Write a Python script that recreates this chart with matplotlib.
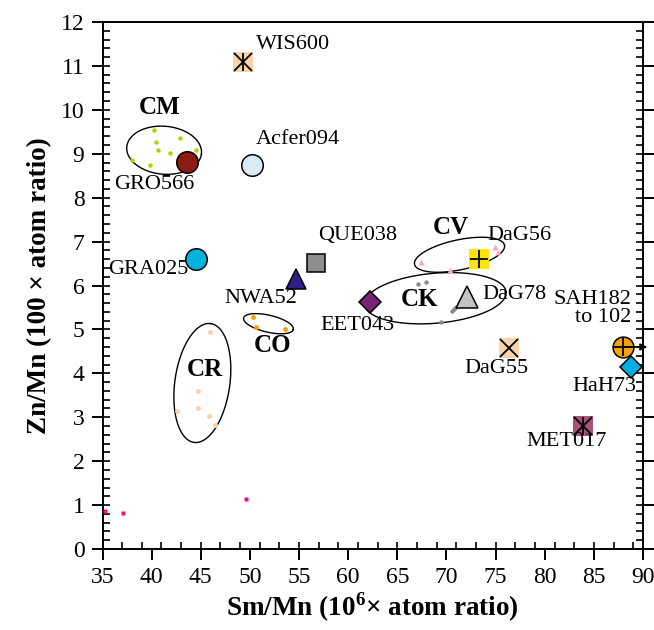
import numpy as np
import matplotlib
matplotlib.use("Agg")
import matplotlib.pyplot as plt
from matplotlib.ticker import MultipleLocator, FixedLocator

plt.rcParams['font.family'] = ['Liberation Serif', 'DejaVu Serif']
plt.rcParams['mathtext.fontset'] = 'custom'
plt.rcParams['mathtext.rm'] = 'Liberation Serif'
plt.rcParams['mathtext.bf'] = 'Liberation Serif:bold'

# ---- group (small dot) data ----
cm_x = [40.23, 40.44, 42.88, 40.67, 41.86, 44.50, 37.97, 39.83, 43.05]
cm_y = [9.54, 9.26, 9.35, 9.09, 9.01, 9.09, 8.85, 8.75, 8.82]
co_x = [50.33, 50.60, 53.55]
co_y = [5.28, 5.06, 5.01]
cr_x = [45.92, 44.67, 44.74, 42.54, 45.82, 46.40]
cr_y = [4.94, 3.60, 3.20, 3.14, 3.02, 2.83]
ck_x = [67.09, 67.95, 71.00, 70.75, 70.59, 69.40]
ck_y = [6.03, 6.07, 5.52, 5.46, 5.41, 5.16]
cv_x = [67.44, 70.32, 74.96, 75.29]
cv_y = [6.54, 6.36, 6.87, 6.76]
mag_x = [35.25, 37.10, 49.58]
mag_y = [0.86, 0.82, 1.13]

# ---- individual meteorites ----
names = ['GRO566', 'Acfer094', 'WIS600', 'GRA025', 'QUE038', 'NWA52', 'EET043',
         'DaG78', 'DaG56', 'DaG55', 'MET017', 'SAH182', 'HaH73']
met_x = [43.62, 50.2, 49.3, 44.5, 56.7, 54.66, 62.2, 72.1, 73.29, 76.4, 83.93, 87.93, 88.78]
met_y = [8.82, 8.75, 11.09, 6.60, 6.51, 6.15, 5.63, 5.73, 6.60, 4.58, 2.79, 4.60, 4.15]

fig = plt.figure(figsize=(6.54, 6.30), dpi=100)
ax = fig.add_axes([102.5/654, 81/630, (643-102.5)/654, (549-22)/630])
ax.set_xlim(35, 90)
ax.set_ylim(0, 12)

# ticks
ax.xaxis.set_major_locator(MultipleLocator(5))
ax.xaxis.set_minor_locator(FixedLocator(np.arange(35, 91, 2)))
ax.yaxis.set_major_locator(MultipleLocator(1))
ax.yaxis.set_minor_locator(MultipleLocator(0.2))
ax.xaxis.remove_overlapping_locs = False
ax.yaxis.remove_overlapping_locs = False
ax.tick_params(which='major', direction='out', length=8, width=1.4,
               labelsize=17, right=True, top=False, pad=5)
ax.tick_params(which='minor', direction='in', length=5, width=1.2,
               right=True, top=False)
for s in ax.spines.values():
    s.set_linewidth(1.4)

ax.set_xlabel(r'Sm/Mn (10$^{\mathbf{6}}$× atom ratio)', fontsize=19.5,
              fontweight='bold', labelpad=2)
ax.set_ylabel('Zn/Mn (100 × atom ratio)', fontsize=19.5, fontweight='bold',
              labelpad=6)

# ellipses (display-space shapes)
def draw_ellipse(cx, cy, w, h, ang):
    t = np.linspace(0, 2*np.pi, 300)
    c = ax.transData.transform((cx, cy))
    a = np.deg2rad(ang)
    px = c[0] + w/2*np.cos(t)*np.cos(a) - h/2*np.sin(t)*np.sin(a)
    py = c[1] + w/2*np.cos(t)*np.sin(a) + h/2*np.sin(t)*np.cos(a)
    d = ax.transData.inverted().transform(np.column_stack([px, py]))
    ax.plot(d[:, 0], d[:, 1], color='black', lw=1.0, zorder=2)

draw_ellipse(41.27, 9.08, 75, 48, -5)
draw_ellipse(51.89, 5.13, 51, 17, -13)
draw_ellipse(45.16, 3.78, 120, 55, 82)
draw_ellipse(71.33, 6.70, 92, 30, 12)
draw_ellipse(68.87, 5.71, 142, 50, 5)

# small dots
ax.plot(cm_x, cm_y, 'o', ms=3.2, color='#b7d000', mec='none', zorder=3)
ax.plot(co_x, co_y, 'o', ms=3.5, color='#f5a000', mec='none', zorder=3)
ax.plot(cr_x, cr_y, 'o', ms=3.5, color='#f8cfaa', mec='none', zorder=3)
ax.plot(ck_x, ck_y, 'o', ms=3.2, color='#8a8a8a', mec='none', zorder=3)
ax.plot(cv_x, cv_y, '^', ms=4, color='#f3a9c6', mec='none', zorder=3)
ax.plot(mag_x, mag_y, 's', ms=3.3, color='#e5157d', mec='none', zorder=3)

# big markers
styles = {
    'GRO566':   dict(marker='o', ms=15.5, mfc='#8c1c12', mec='black'),
    'Acfer094': dict(marker='o', ms=15.5, mfc='#d9ebf7', mec='black'),
    'WIS600':   dict(marker='s', ms=13.7, mfc='#f8d3ac', mec='none'),
    'GRA025':   dict(marker='o', ms=15.5, mfc='#00b3dc', mec='black'),
    'QUE038':   dict(marker='s', ms=13.5, mfc='#8d8d8d', mec='black'),
    'NWA52':    dict(marker='^', ms=15, mfc='#2f1f87', mec='black'),
    'EET043':   dict(marker='D', ms=11.5, mfc='#7a2276', mec='black'),
    'DaG78':    dict(marker='^', ms=15.5, mfc='#c2c2c2', mec='black'),
    'DaG56':    dict(marker='s', ms=13.7, mfc='#ffe500', mec='none'),
    'DaG55':    dict(marker='s', ms=13.7, mfc='#f8d3ac', mec='none'),
    'MET017':   dict(marker='s', ms=13.7, mfc='#a8527b', mec='none'),
    'SAH182':   dict(marker='o', ms=15, mfc='#f5a300', mec='black'),
    'HaH73':    dict(marker='D', ms=11.3, mfc='#00aedf', mec='black'),
}
overlays = {
    'WIS600': ['x', '|'], 'DaG56': ['+'], 'DaG55': ['x'],
    'MET017': ['x', '|'], 'SAH182': ['+'],
}
for n, x, y in zip(names, met_x, met_y):
    st = styles[n]
    ax.plot([x], [y], ls='none', mew=1.1, zorder=4, **st)
    for m in overlays.get(n, []):
        ax.plot([x], [y], ls='none', marker=m, ms=13.5, color='black',
                mew=1.3, zorder=5)

# arrow from SAH182
ax.annotate('', xy=(90.45, 4.60), xytext=(met_x[11], 4.60),
            arrowprops=dict(arrowstyle='-|>', color='black', lw=1.2,
                            mutation_scale=10, shrinkA=0, shrinkB=0),
            annotation_clip=False, zorder=6)

# labels
fs = 16
lab = [
    ('WIS600', 54.4, 11.48, 'center'),
    ('Acfer094', 54.87, 9.32, 'center'),
    ('GRO566', 40.24, 8.29, 'center'),
    ('GRA025', 39.67, 6.36, 'center'),
    ('QUE038', 60.97, 7.13, 'center'),
    ('NWA52', 51.09, 5.71, 'center'),
    ('EET043', 60.9, 5.10, 'center'),
    ('DaG78', 73.7, 5.79, 'left'),
    ('DaG56', 74.2, 7.13, 'left'),
    ('DaG55', 75.04, 4.12, 'center'),
    ('MET017', 82.2, 2.44, 'center'),
    ('SAH182', 88.8, 5.67, 'right'),
    ('to 102', 88.8, 5.26, 'right'),
    ('HaH73', 86.07, 3.69, 'center'),
]
for t, x, y, ha in lab:
    ax.text(x, y, t, fontsize=fs, ha=ha, va='center', zorder=7)

groups = [('CM', 40.84, 10.05), ('CO', 52.3, 4.63), ('CR', 45.39, 4.09),
          ('CK', 67.27, 5.67), ('CV', 70.4, 7.33)]
for t, x, y in groups:
    ax.text(x, y, t, fontsize=18, fontweight='bold', ha='center',
            va='center', zorder=7)

fig.savefig('out.png', dpi=100)
